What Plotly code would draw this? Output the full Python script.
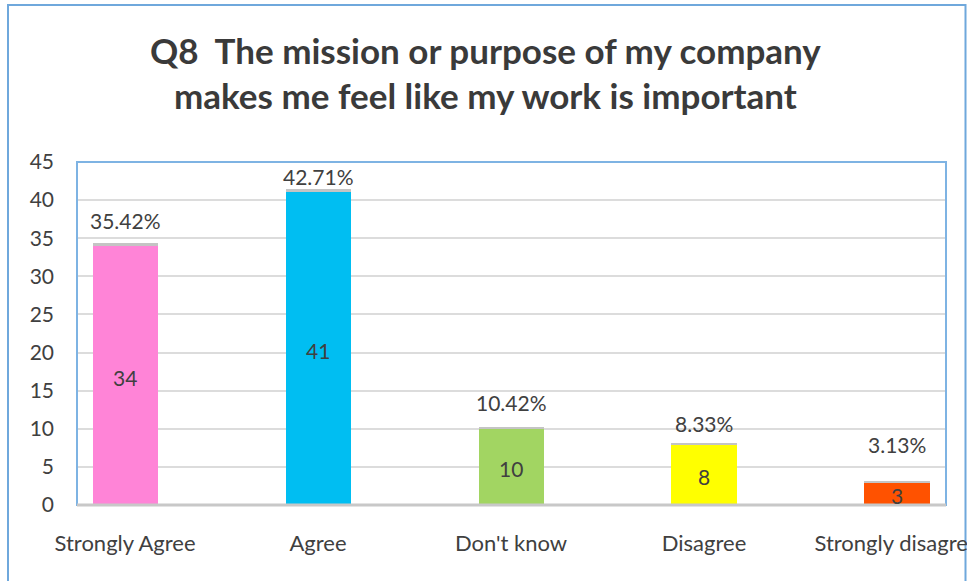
import plotly.graph_objects as go

# Survey responses for Q8
categories = ["Strongly Agree", "Agree", "Don't know", "Disagree", "Strongly disagree"]
counts = [34, 41, 10, 8, 3]
percents = [35.42, 42.71, 10.42, 8.33, 3.13]
y_ticks = [0, 5, 10, 15, 20, 25, 30, 35, 40, 45]

bar_colors = ["#FF84D7", "#00BEF2", "#A2D562", "#FFFF00", "#FF5200"]
# vertical lift (px) of each percentage label above its bar
label_lift = [23, 13, 25, 20, 37]

TEXT = "#404040"
FONT = "Lato"
W, H = 967, 581
L, R, T, B = 77, 21, 162, 76
PW, PH = W - L - R, H - T - B


def px_x(p):
    return (p - L) / PW


def px_y(p):
    return (H - B - p) / PH


fig = go.Figure()
fig.add_trace(go.Bar(
    x=categories, y=counts, marker=dict(color=bar_colors, line=dict(width=0)),
    width=0.337, showlegend=False, hoverinfo="x+y",
))
# percentage share stacked as a thin cap on each bar
fig.add_trace(go.Bar(
    x=categories, y=[p / 100 for p in percents],
    marker=dict(color="#C4C4C4", line=dict(width=0)),
    width=0.337, showlegend=False, hoverinfo="skip",
))

annotations = []
for cat, c, p, lift in zip(categories, counts, percents, label_lift):
    annotations.append(dict(
        x=cat, y=c / 2, xref="x", yref="y", text=str(c), showarrow=False,
        font=dict(family=FONT, size=21, color=TEXT), yanchor="middle", yshift=-2,
    ))
    annotations.append(dict(
        x=cat, y=c + p / 100, xref="x", yref="y", text=f"{p:.2f}%",
        showarrow=False, yshift=lift, yanchor="middle",
        font=dict(family=FONT, size=21, color=TEXT),
    ))

title_lines = ["Q8  The mission or purpose of my company",
               "makes me feel like my work is important"]
for line, ypx in zip(title_lines, [50, 95]):
    annotations.append(dict(
        x=px_x(W / 2 + 2), y=px_y(ypx), xref="paper", yref="paper",
        text=f"<b>{line}</b>", showarrow=False, xanchor="center", yanchor="middle",
        font=dict(family=FONT, size=35, color="#3A3A3A"),
    ))

shapes = [
    # outer chart frame
    dict(type="rect", xref="paper", yref="paper",
         x0=px_x(8), x1=px_x(965.5), y0=px_y(600), y1=px_y(5),
         line=dict(color="#6FA8DC", width=2), layer="below"),
    # plot area frame
    dict(type="rect", xref="paper", yref="paper", x0=0, x1=1, y0=0, y1=1,
         line=dict(color="#7EB3E3", width=2), layer="above"),
    # category axis line
    dict(type="line", xref="paper", yref="paper", x0=0, x1=1, y0=0, y1=0,
         line=dict(color="#C8C8C8", width=3), layer="above"),
]

fig.update_layout(
    width=W, height=H, barmode="stack", bargap=0,
    margin=dict(l=L, r=R, t=T, b=B, autoexpand=False),
    paper_bgcolor="white", plot_bgcolor="white",
    font=dict(family=FONT, size=21, color=TEXT),
    annotations=annotations, shapes=shapes,
    xaxis=dict(
        type="category", range=[-0.249, 4.254], showgrid=False, showline=False,
        ticks="", ticklabelstandoff=23, automargin=False,
        tickfont=dict(family=FONT, size=22, color=TEXT),
    ),
    yaxis=dict(
        range=[0, 45], tickvals=y_ticks, showgrid=True, gridcolor="#DCDCDC",
        gridwidth=2, zeroline=False, showline=False, ticks="",
        ticklabelstandoff=22, automargin=False,
        tickfont=dict(family=FONT, size=21, color=TEXT),
    ),
)

fig.write_html("out.html")
